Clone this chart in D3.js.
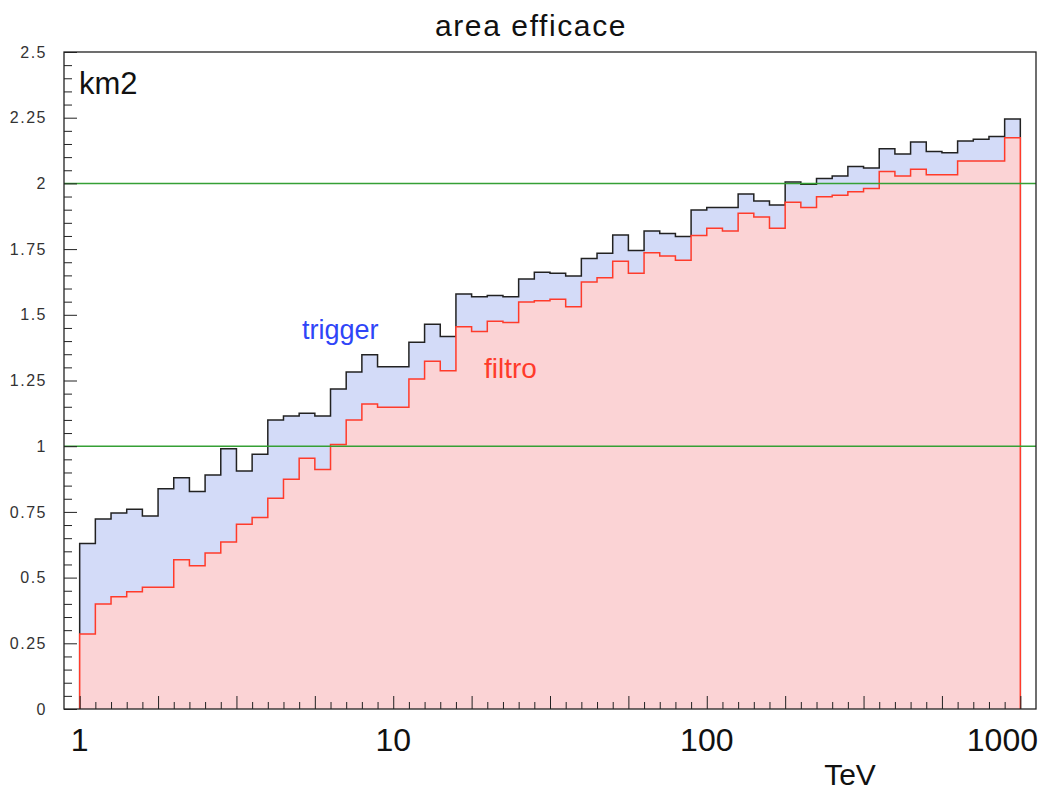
<!DOCTYPE html>
<html>
<head>
<meta charset="utf-8">
<script src="https://cdn.jsdelivr.net/npm/d3@7"></script>
<style>
  body { margin: 0; background: #fff; }
  text { font-family: "Liberation Sans", Arial, sans-serif; }
</style>
</head>
<body>
<div id="chart"></div>
<script>
// histogram binning: 60 bins, log10(E/TeV) from 0 to 3
var nBins = 60;
var logLo = 0, logHi = 3;

// effective area (km2) per bin
var trigger = [0.630, 0.723, 0.746, 0.760, 0.734, 0.838, 0.880, 0.828, 0.890, 0.990,
  0.906, 0.969, 1.100, 1.115, 1.125, 1.115, 1.218, 1.282, 1.348, 1.302,
  1.302, 1.396, 1.464, 1.417, 1.579, 1.569, 1.573, 1.569, 1.636, 1.662,
  1.658, 1.648, 1.714, 1.734, 1.804, 1.745, 1.819, 1.809, 1.798, 1.899,
  1.908, 1.908, 1.960, 1.933, 1.918, 2.005, 1.997, 2.019, 2.028, 2.064,
  2.059, 2.132, 2.112, 2.158, 2.121, 2.117, 2.161, 2.168, 2.178, 2.245];

var filtro = [0.285, 0.400, 0.427, 0.446, 0.463, 0.463, 0.568, 0.545, 0.594, 0.635,
  0.703, 0.729, 0.802, 0.874, 0.954, 0.911, 1.006, 1.100, 1.161, 1.148,
  1.148, 1.256, 1.323, 1.287, 1.455, 1.436, 1.475, 1.471, 1.549, 1.553,
  1.559, 1.531, 1.625, 1.641, 1.704, 1.658, 1.736, 1.724, 1.708, 1.802,
  1.829, 1.819, 1.886, 1.872, 1.829, 1.928, 1.908, 1.949, 1.955, 1.968,
  1.981, 2.045, 2.028, 2.054, 2.033, 2.033, 2.085, 2.085, 2.085, 2.174];

var refLines = [1, 2];
var xLabels = [1, 10, 100, 1000];
var yTicks = [0, 0.25, 0.5, 0.75, 1, 1.25, 1.5, 1.75, 2, 2.25, 2.5];

var svgWidth = 1044;
var svgHeight = 793;
var margin = { top: 52, right: 8, bottom: 84, left: 64 };
var width = svgWidth - margin.left - margin.right;
var height = svgHeight - margin.top - margin.bottom;

var svg = d3.select("#chart")
  .append("svg")
  .attr("width", svgWidth)
  .attr("height", svgHeight);

var chartGroup = svg.append("g")
  .attr("transform", `translate(${margin.left}, ${margin.top})`);

// scales
var xScale = d3.scaleLog()
  .domain([Math.pow(10, -0.05), Math.pow(10, 3.05)])
  .range([0, width]);

var yScale = d3.scaleLinear()
  .domain([0, 2.5])
  .range([height, 0]);

// bin edges in TeV
var edges = d3.range(nBins + 1).map(i => Math.pow(10, logLo + i * (logHi - logLo) / nBins));

function stepPoints(values) {
  var pts = values.map((v, i) => [edges[i], v]);
  pts.push([edges[nBins], values[nBins - 1]]);
  return pts;
}

var area = d3.area()
  .curve(d3.curveStepAfter)
  .x(d => xScale(d[0]))
  .y0(yScale(0))
  .y1(d => yScale(d[1]));

var line = d3.line()
  .curve(d3.curveStepAfter)
  .x(d => xScale(d[0]))
  .y(d => yScale(d[1]));

function drawHist(values, fill, stroke) {
  var pts = stepPoints(values);
  chartGroup.append("path")
    .attr("d", area(pts))
    .attr("fill", fill);
  var outline = [[edges[0], 0]].concat(pts, [[edges[nBins], 0]]);
  chartGroup.append("path")
    .attr("d", line(outline))
    .attr("fill", "none")
    .attr("stroke", stroke)
    .attr("stroke-width", 1.5);
}

drawHist(trigger, "#d3dbf8", "#222");
drawHist(filtro, "#fbd3d5", "#ff3b2b");

// green reference lines
chartGroup.selectAll(".ref")
  .data(refLines)
  .enter()
  .append("line")
  .attr("x1", 0)
  .attr("x2", width)
  .attr("y1", d => yScale(d))
  .attr("y2", d => yScale(d))
  .attr("stroke", "#35a035")
  .attr("stroke-width", 1.5);

// x ticks (inward, no labels)
var majorX = d3.range(0, 13).map(k => Math.pow(10, k * 0.25));
var minorX = d3.range(0, 62).filter(k => k % 5 !== 0).map(k => Math.pow(10, k * 0.05))
  .filter(v => v < xScale.domain()[1]);

function tickAxis(axis, vals, size) {
  return axis.tickValues(vals).tickSize(-size).tickFormat("").tickSizeOuter(0);
}

[[majorX, 13], [minorX, 7]].forEach(function(t) {
  var g = chartGroup.append("g")
    .attr("transform", `translate(0, ${height})`)
    .call(tickAxis(d3.axisBottom(xScale), t[0], t[1]));
  g.select(".domain").remove();
  g.selectAll("line").attr("stroke", "#222");
});

// y ticks
var minorY = d3.range(0, 51).filter(k => k % 5 !== 0).map(k => k * 0.05);
[[yTicks, 13], [minorY, 8]].forEach(function(t) {
  var g = chartGroup.append("g")
    .call(tickAxis(d3.axisLeft(yScale), t[0], t[1]));
  g.select(".domain").remove();
  g.selectAll("line").attr("stroke", "#222");
});

// y tick labels
chartGroup.selectAll(".ylab")
  .data(yTicks)
  .enter()
  .append("text")
  .attr("x", -17)
  .attr("y", d => yScale(d))
  .attr("dy", "0.35em")
  .attr("text-anchor", "end")
  .attr("font-size", "16px")
  .attr("letter-spacing", "1.5px")
  .attr("fill", "#333")
  .text(d => String(d));

// x tick labels
chartGroup.selectAll(".xlab")
  .data(xLabels)
  .enter()
  .append("text")
  .attr("x", (d, i) => i === xLabels.length - 1 ? width + 2 : xScale(d))
  .attr("y", height + 42)
  .attr("text-anchor", (d, i) => i === xLabels.length - 1 ? "end" : "middle")
  .attr("font-size", "32px")
  .attr("fill", "#111")
  .text(d => d);

// frame
chartGroup.append("rect")
  .attr("x", 0)
  .attr("y", 0)
  .attr("width", width)
  .attr("height", height)
  .attr("fill", "none")
  .attr("stroke", "#222")
  .attr("stroke-width", 1.3);

// texts
svg.append("text")
  .attr("x", 531)
  .attr("y", 36)
  .attr("text-anchor", "middle")
  .attr("font-size", "30px")
  .attr("letter-spacing", "1.6px")
  .attr("fill", "#111")
  .text("area efficace");

svg.append("text")
  .attr("x", 79)
  .attr("y", 94)
  .attr("font-size", "31px")
  .attr("fill", "#111")
  .text("km2");

svg.append("text")
  .attr("x", 850)
  .attr("y", 785)
  .attr("text-anchor", "middle")
  .attr("font-size", "30px")
  .attr("fill", "#111")
  .text("TeV");

svg.append("text")
  .attr("x", 302)
  .attr("y", 339)
  .attr("font-size", "27px")
  .attr("fill", "#2f45f8")
  .text("trigger");

svg.append("text")
  .attr("x", 484)
  .attr("y", 378)
  .attr("font-size", "28px")
  .attr("fill", "#ff3b2b")
  .text("filtro");
</script>
</body>
</html>
